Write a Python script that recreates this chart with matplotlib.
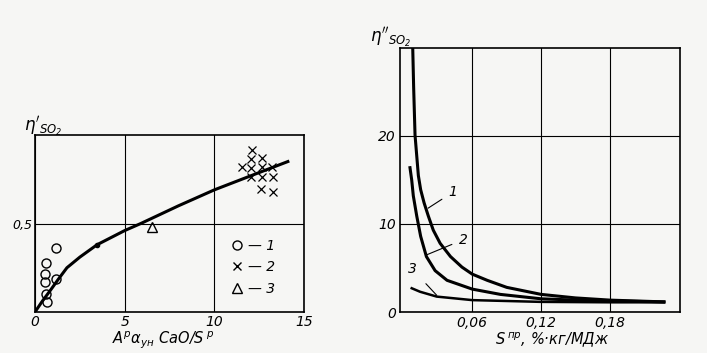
import matplotlib
matplotlib.use("Agg")
import matplotlib.pyplot as plt
from matplotlib.lines import Line2D

plt.rcParams['font.family'] = ['DejaVu Sans']
plt.rcParams['font.style'] = 'italic'
plt.rcParams['mathtext.fontset'] = 'dejavusans'

# ---- left chart data ----
curve_x = [0, 0.4, 0.84, 1.3, 1.78, 2.5, 3.46, 5.0, 5.9, 8.0, 10.0, 12.3, 14.1]
curve_y = [0, 0.06, 0.12, 0.185, 0.25, 0.31, 0.38, 0.46, 0.50, 0.60, 0.69, 0.78, 0.85]
dot_x = [3.46]
dot_y = [0.38]
s1_x = [1.18, 0.60, 0.56, 0.56, 1.18, 0.62, 0.67]
s1_y = [0.36, 0.277, 0.213, 0.169, 0.185, 0.10, 0.056]
s2_x = [12.08, 12.02, 12.64, 11.52, 12.02, 12.64, 13.2, 12.02, 12.64, 13.26, 12.58, 13.26]
s2_y = [0.916, 0.865, 0.871, 0.820, 0.815, 0.820, 0.820, 0.764, 0.764, 0.764, 0.697, 0.680]
s3_x = [6.5]
s3_y = [0.48]
left_xticks = [0, 5, 10, 15]
left_xticklabels = ['0', '5', '10', '15']
left_yticks = [0.5]
left_yticklabels = ['0,5']

# ---- right chart data ----
c1_x = [0.0081, 0.0089, 0.0101, 0.013, 0.015, 0.018, 0.0217, 0.026, 0.032, 0.041,
        0.051, 0.060, 0.073, 0.090, 0.120, 0.150, 0.180, 0.227]
c1_y = [30.0, 25.5, 20.1, 15.5, 13.9, 12.4, 10.9, 9.3, 7.8, 6.3,
        5.1, 4.3, 3.6, 2.8, 2.0, 1.6, 1.35, 1.15]
c2_x = [0.0057, 0.0072, 0.0086, 0.0116, 0.015, 0.020, 0.0276, 0.038, 0.060, 0.0845,
        0.120, 0.150, 0.180, 0.227]
c2_y = [16.4, 15.0, 13.2, 10.9, 8.6, 6.3, 4.7, 3.6, 2.6, 2.0,
        1.5, 1.35, 1.25, 1.15]
c3_x = [0.0072, 0.0145, 0.029, 0.060, 0.120, 0.180, 0.227]
c3_y = [2.7, 2.3, 1.75, 1.35, 1.15, 1.1, 1.1]
right_xticks = [0.06, 0.12, 0.18]
right_xticklabels = ['0,06', '0,12', '0,18']
right_yticks = [0, 10, 20]
right_yticklabels = ['0', '10', '20']

bg = '#f6f6f4'
fig = plt.figure(figsize=(7.07, 3.53), dpi=100, facecolor=bg)

# ---------- left ----------
ax1 = fig.add_axes([35/707, 1-312/353, 269/707, 177/353])
ax1.set_facecolor(bg)
ax1.set_xlim(0, 15)
ax1.set_ylim(0, 1.0)
ax1.grid(True, color='black', lw=0.8)
ax1.set_xticks(left_xticks)
ax1.set_xticklabels(left_xticklabels, fontsize=10)
ax1.set_yticks(left_yticks)
ax1.set_yticklabels(left_yticklabels, fontsize=9)
ax1.tick_params(length=0, pad=2)
for sp in ax1.spines.values():
    sp.set_linewidth(1.2)
ax1.plot(curve_x, curve_y, color='black', lw=2.2, solid_joinstyle='round')
ax1.plot(dot_x, dot_y, 'o', color='black', ms=3)
ax1.plot(s1_x, s1_y, 'o', mfc='none', mec='black', ms=6.5, mew=1.0, linestyle='none')
ax1.plot(s2_x, s2_y, 'x', color='black', ms=6, mew=0.9, linestyle='none')
ax1.plot(s3_x, s3_y, '^', mfc='none', mec='black', ms=7, mew=1.0, linestyle='none')
handles = [Line2D([], [], marker='o', mfc='none', mec='black', ms=6.5, ls='none'),
           Line2D([], [], marker='x', color='black', ms=6, ls='none'),
           Line2D([], [], marker='^', mfc='none', mec='black', ms=7, ls='none')]
ax1.legend(handles, ['— 1', '— 2', '— 3'], frameon=False, fontsize=10,
           loc='lower left', bbox_to_anchor=(0.68, 0.02), handlelength=1.0,
           handletextpad=0.3, labelspacing=0.55)
fig.text(24/707, 1-127/353, r"$\eta'_{\mathit{SO}_2}$", fontsize=12, ha='left', va='center')
fig.text(163/707, 1-340/353, r"$A^{р}\alpha_{ун}$ $\mathit{CaO/S}^{\,р}$", fontsize=10.5,
         ha='center', va='center')

# ---------- right ----------
ax2 = fig.add_axes([400/707, 1-312/353, 280/707, 264/353])
ax2.set_facecolor(bg)
ax2.set_xlim(-0.003, 0.241)
ax2.set_ylim(0, 30)
ax2.grid(True, color='black', lw=0.8)
ax2.set_xticks(right_xticks)
ax2.set_xticklabels(right_xticklabels, fontsize=10)
ax2.set_yticks(right_yticks)
ax2.set_yticklabels(right_yticklabels, fontsize=10)
ax2.tick_params(length=0, pad=3)
for sp in ax2.spines.values():
    sp.set_linewidth(1.2)
ax2.plot(c1_x, c1_y, color='black', lw=2.2, solid_joinstyle='round')
ax2.plot(c2_x, c2_y, color='black', lw=2.2, solid_joinstyle='round')
ax2.plot(c3_x, c3_y, color='black', lw=1.8, solid_joinstyle='round')
ax2.annotate('1', xy=(0.0215, 11.8), xytext=(0.039, 13.6), fontsize=10,
             ha='left', va='center',
             arrowprops=dict(arrowstyle='-', lw=0.8, color='black', shrinkA=3, shrinkB=0))
ax2.annotate('2', xy=(0.0203, 6.5), xytext=(0.048, 8.2), fontsize=10,
             ha='left', va='center',
             arrowprops=dict(arrowstyle='-', lw=0.8, color='black', shrinkA=3, shrinkB=0))
ax2.annotate('3', xy=(0.029, 1.9), xytext=(0.0075, 4.9), fontsize=10,
             ha='center', va='center',
             arrowprops=dict(arrowstyle='-', lw=0.8, color='black', shrinkA=7, shrinkB=0))
fig.text(370/707, 1-38/353, r"$\eta''_{\mathit{SO}_2}$", fontsize=12, ha='left', va='center')
fig.text(552/707, 1-340/353, r"$S^{\,пр}$, %·кг/МДж", fontsize=10.5, ha='center', va='center')

fig.savefig('out.png', dpi=100, facecolor=bg)
